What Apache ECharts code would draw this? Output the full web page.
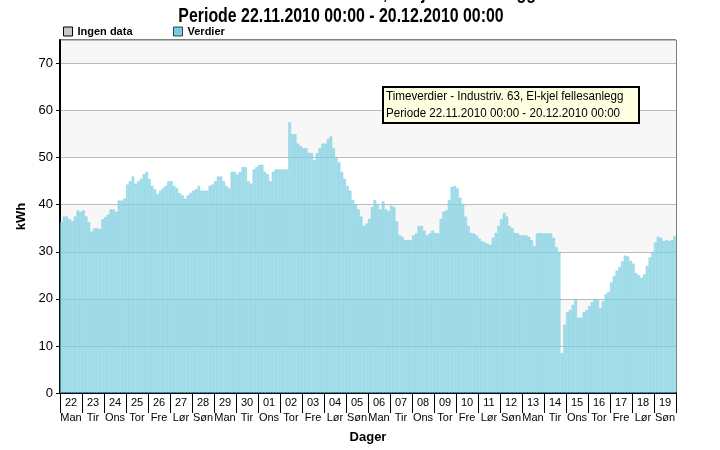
<!DOCTYPE html>
<html>
<head>
<meta charset="utf-8">
<script src="https://cdn.jsdelivr.net/npm/echarts@6/dist/echarts.min.js"></script>
<style>html,body{margin:0;padding:0;background:#fff}#c{width:720px;height:450px}</style>
</head>
<body>
<div id="c"></div>
<script>
// Day categories (22.11.2010 – 19.12.2010) and weekday names
const days = ['22','23','24','25','26','27','28','29','30','01','02','03','04','05','06','07','08','09','10','11','12','13','14','15','16','17','18','19'];
const weekdays = ['Man','Tir','Ons','Tor','Fre','Lør','Søn','Man','Tir','Ons','Tor','Fre','Lør','Søn','Man','Tir','Ons','Tor','Fre','Lør','Søn','Man','Tir','Ons','Tor','Fre','Lør','Søn'];
const slotHours = ['00','03','06','09','12','15','18','21'];
const yTicks = [0,10,20,30,40,50,60,70];

// kWh values, 3-hour resolution (8 per day)
const week1 = [ // 22.11 - 28.11
  36.3,37.5,37.5,36.9,36.5,37.5,38.8,38.5,
  38.8,37.5,36.3,34.3,35.0,35.0,34.8,36.9,
  37.4,37.9,39.0,39.0,38.5,40.9,40.9,41.3,
  44.3,45.0,46.0,44.5,45.0,45.5,46.5,47.0,
  45.5,44.0,43.3,42.3,43.0,43.5,44.0,45.0,
  45.0,44.0,43.5,42.5,42.0,41.3,42.0,42.5,
  43.0,43.3,44.0,43.0,43.0,43.0,44.0,44.3
];
const week2 = [ // 29.11 - 05.12
  45.0,46.0,46.0,45.0,44.0,43.5,47.0,47.0,
  46.5,47.0,48.0,48.0,45.0,44.5,47.5,48.0,
  48.5,48.5,47.0,46.5,45.0,47.0,47.5,47.5,
  47.5,47.5,47.5,57.5,55.0,55.0,53.0,52.5,
  52.0,52.0,51.0,51.0,49.5,51.0,52.0,53.0,
  53.0,54.0,54.5,52.0,50.0,49.0,47.0,45.5,
  44.0,43.0,41.0,40.0,39.0,37.5,35.5,36.0
];
const week3 = [ // 06.12 - 12.12
  37.0,39.5,41.0,40.2,39.0,40.7,39.0,38.7,
  39.8,39.5,36.5,33.5,33.2,32.5,32.5,32.5,
  33.5,33.9,35.5,35.5,34.5,33.5,33.9,34.5,
  34.0,33.9,37.0,38.5,38.8,41.0,43.8,44.0,
  43.5,41.5,40.2,37.5,35.5,34.0,33.9,33.5,
  32.8,32.3,32.0,31.7,31.5,33.0,34.0,35.5,
  36.9,38.3,37.5,35.5,35.0,34.0,33.9,33.5
];
const week4 = [ // 13.12 - 19.12
  33.5,33.5,33.2,32.5,31.2,33.9,34.0,33.9,
  33.9,33.9,33.9,33.0,31.0,30.0,8.5,14.5,
  17.2,17.6,18.7,20.0,16.0,16.0,17.2,17.6,
  18.5,19.3,20.0,19.8,18.0,19.5,21.0,21.5,
  23.5,24.8,26.0,26.8,28.0,29.2,29.0,28.1,
  27.5,25.5,25.0,24.5,25.2,27.0,28.8,30.0,
  32.0,33.2,33.0,32.3,32.5,32.3,32.5,33.3
];

const values = week1.concat(week2, week3, week4);
const slots = [];
days.forEach(d => slotHours.forEach(h => slots.push(d + ' ' + h + ':00')));
const dayLabels = days.map((d, i) => d + '\n' + weekdays[i]);

const FF = "'Liberation Sans',Arial,sans-serif";

const chart = echarts.init(document.getElementById('c'), null, {renderer: 'canvas'});
chart.setOption({
  animation: false,
  backgroundColor: '#ffffff',
  legend: [
    {
      left: 63, top: 26, padding: 0,
      icon: 'rect', itemWidth: 9, itemHeight: 9, itemGap: 4,
      textStyle: {fontSize: 11, fontWeight: 'bold', fontFamily: FF, color: '#000'},
      data: [{name: 'Ingen data', itemStyle: {color: '#c8c8c8', borderColor: '#000', borderWidth: 1}}]
    },
    {
      left: 173, top: 26, padding: 0,
      icon: 'rect', itemWidth: 9, itemHeight: 9, itemGap: 4,
      textStyle: {fontSize: 11, fontWeight: 'bold', fontFamily: FF, color: '#000'},
      data: [{name: 'Verdier', itemStyle: {color: '#3db6d8', borderColor: '#000', borderWidth: 1}}]
    }
  ],
  grid: {left: 60, right: 44, top: 40, bottom: 57, show: true, borderColor: '#000', borderWidth: 1, backgroundColor: 'transparent'},
  xAxis: [
    {
      type: 'category', data: dayLabels, boundaryGap: true,
      axisLine: {lineStyle: {color: '#000', width: 2}},
      axisTick: {show: true, interval: 0, length: 20, lineStyle: {color: '#000', width: 1}},
      axisLabel: {interval: 0, color: '#000', fontSize: 11, fontFamily: FF, lineHeight: 15, margin: 2},
      name: 'Dager', nameLocation: 'middle', nameGap: 38,
      nameTextStyle: {fontWeight: 'bold', fontSize: 13, fontFamily: FF, color: '#000'}
    },
    {type: 'category', data: slots, show: false, boundaryGap: true}
  ],
  yAxis: [{
    type: 'value', min: 0, max: 75, interval: 10,
    axisLine: {show: true, lineStyle: {color: '#000', width: 2}},
    axisTick: {show: true, length: 4, lineStyle: {color: '#000'}},
    axisLabel: {color: '#000', fontSize: 13, fontFamily: FF, margin: 7, showMaxLabel: false},
    splitLine: {show: true, lineStyle: {color: '#bbbbbb', width: 1}},
    splitArea: {show: true, areaStyle: {color: ['#ffffff', '#f7f7f7']}},
    name: 'kWh', nameLocation: 'middle', nameGap: 25,
    nameTextStyle: {fontWeight: 'bold', fontSize: 13, fontFamily: FF, color: '#000'}
  }],
  series: [
    {name: 'Ingen data', type: 'bar', stack: 'all', xAxisIndex: 1, data: [], itemStyle: {color: '#c8c8c8'}},
    {
      name: 'Verdier', type: 'bar', stack: 'all', xAxisIndex: 1, data: values,
      barCategoryGap: '0%', barGap: '0%',
      itemStyle: {color: '#83d3e4', opacity: 0.7, borderColor: '#6cc8de', borderWidth: 0.6}
    }
  ],
  graphic: [
    {type: 'text', x: 536, y: 3, scaleX: 0.8, z: 10,
      style: {text: 'Timeverdier - Industriv. 63, El-kjel fellesanlegg', x: 0, y: 0, align: 'right', verticalAlign: 'bottom', font: 'bold 20px ' + FF, fill: '#000'}},
    {type: 'text', x: 341, y: 16, scaleX: 0.795, z: 10,
      style: {text: 'Periode 22.11.2010 00:00 - 20.12.2010 00:00', x: 0, y: 0, align: 'center', verticalAlign: 'middle', font: 'bold 20px ' + FF, fill: '#000'}},
    {type: 'rect', shape: {x: 383, y: 87, width: 256, height: 36}, style: {fill: '#ffffe1', stroke: '#000', lineWidth: 2}, z: 10},
    {type: 'text', x: 386, y: 97, scaleX: 0.97, z: 11,
      style: {text: 'Timeverdier - Industriv. 63, El-kjel fellesanlegg', x: 0, y: 0, verticalAlign: 'middle', font: '12px ' + FF, fill: '#000'}},
    {type: 'text', x: 386, y: 114, scaleX: 0.97, z: 11,
      style: {text: 'Periode 22.11.2010 00:00 - 20.12.2010 00:00', x: 0, y: 0, verticalAlign: 'middle', font: '12px ' + FF, fill: '#000'}}
  ]
});
</script>
</body>
</html>
